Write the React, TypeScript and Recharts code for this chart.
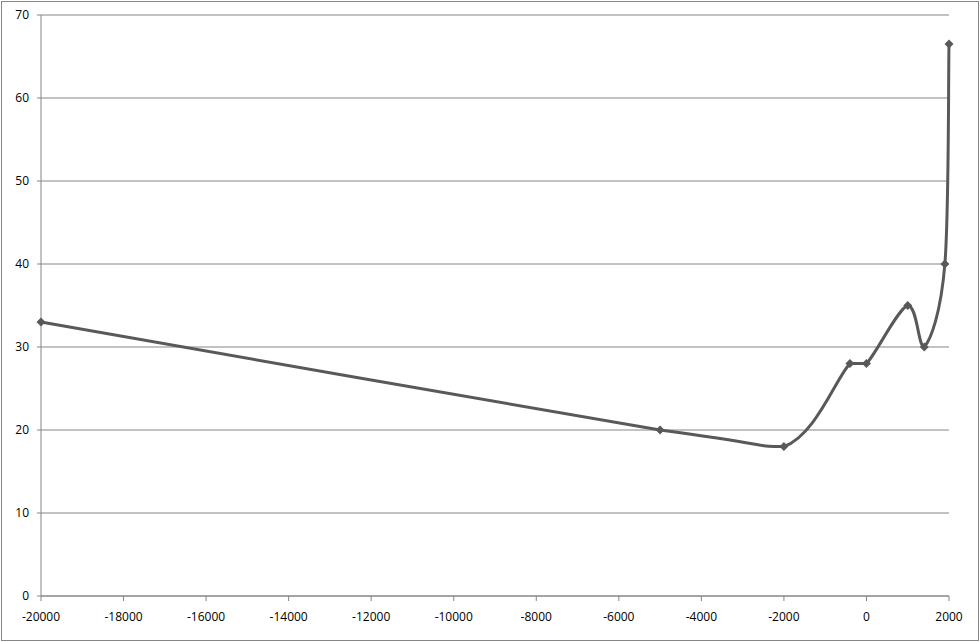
import React from "react";
import { LineChart, Line, XAxis, YAxis, CartesianGrid } from "recharts";

const years = [-20000, -5000, -2000, -400, 0, 1000, 1400, 1900, 2000];
const values = [33, 20, 18, 28, 28, 35, 30, 40, 66.5];
const xTicks = [-20000, -18000, -16000, -14000, -12000, -10000, -8000, -6000, -4000, -2000, 0, 2000];
const yTicks = [0, 10, 20, 30, 40, 50, 60, 70];

const data = years.map((x, i) => ({ x, y: values[i] }));

const gridColor = "#868686";
const lineColor = "#595959";
const fontFamily = "'Open Sans', 'Liberation Sans', sans-serif";

// smoothed line like Excel: catmull-rom bezier, control points kept inside each segment's y range
function smoothCurve(context: any) {
  let pts: number[][] = [];
  const clamp = (v: number, a: number, b: number) => Math.min(Math.max(v, Math.min(a, b)), Math.max(a, b));
  return {
    areaStart() {},
    areaEnd() {},
    lineStart() {
      pts = [];
    },
    point(x: number, y: number) {
      pts.push([+x, +y]);
    },
    lineEnd() {
      if (!pts.length) return;
      context.moveTo(pts[0][0], pts[0][1]);
      for (let i = 0; i < pts.length - 1; i++) {
        const p0 = pts[i - 1] ?? pts[i];
        const p1 = pts[i];
        const p2 = pts[i + 1];
        const p3 = pts[i + 2] ?? p2;
        context.bezierCurveTo(
          p1[0] + (p2[0] - p0[0]) / 6,
          clamp(p1[1] + (p2[1] - p0[1]) / 6, p1[1], p2[1]),
          p2[0] - (p3[0] - p1[0]) / 6,
          clamp(p2[1] - (p3[1] - p1[1]) / 6, p1[1], p2[1]),
          p2[0],
          p2[1]
        );
      }
    },
  };
}

function Diamond(props: any) {
  const { cx, cy, index } = props;
  const r = 4.5;
  return (
    <path
      key={`d-${index}`}
      d={`M${cx},${cy - r}L${cx + r},${cy}L${cx},${cy + r}L${cx - r},${cy}Z`}
      fill={lineColor}
    />
  );
}

export default function App() {
  return (
    <div style={{ position: "absolute", left: 0, top: 0, width: 980, height: 642, background: "#fff" }}>
      <div
        style={{
          position: "absolute",
          left: 1,
          top: 1,
          width: 976,
          height: 638,
          border: `1px solid ${gridColor}`,
        }}
      />
      <LineChart
        width={980}
        height={642}
        data={data}
        margin={{ top: 15, right: 31, bottom: 0, left: 0 }}
        style={{ position: "absolute", left: 0, top: 0 }}
      >
        <CartesianGrid vertical={false} stroke={gridColor} strokeWidth={1} />
        <XAxis
          dataKey="x"
          type="number"
          domain={[-20000, 2000]}
          ticks={xTicks}
          interval={0}
          height={46}
          stroke={gridColor}
          tickSize={5}
          tickMargin={11}
          tick={{ fill: "#000", fontSize: 12, fontFamily }}
        />
        <YAxis
          type="number"
          domain={[0, 70]}
          ticks={yTicks}
          interval={0}
          width={41}
          stroke={gridColor}
          tickSize={4}
          tickMargin={8}
          tick={{ fill: "#000", fontSize: 12, fontFamily }}
        />
        <Line
          dataKey="y"
          type={smoothCurve as any}
          stroke={lineColor}
          strokeWidth={3}
          dot={Diamond}
          activeDot={false}
          isAnimationActive={false}
        />
      </LineChart>
    </div>
  );
}
